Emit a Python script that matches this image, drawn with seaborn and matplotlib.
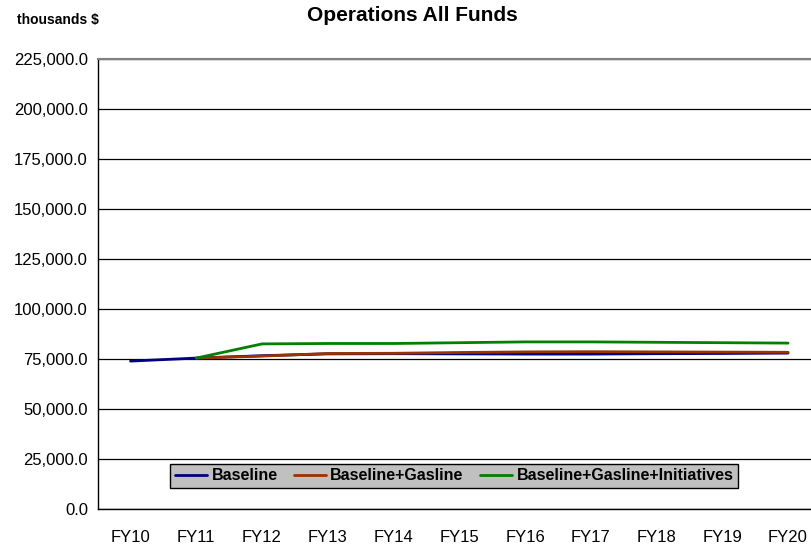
import numpy as np
import pandas as pd
import matplotlib
matplotlib.use("Agg")
import matplotlib.pyplot as plt
import seaborn as sns
from matplotlib.ticker import FuncFormatter

sns.set_style("white")
plt.rcParams['font.family'] = ['Liberation Sans', 'DejaVu Sans']
plt.rcParams['text.color'] = 'black'
plt.rcParams['xtick.color'] = 'black'
plt.rcParams['ytick.color'] = 'black'

years = ['FY10', 'FY11', 'FY12', 'FY13', 'FY14', 'FY15', 'FY16', 'FY17', 'FY18', 'FY19', 'FY20']
baseline = [74000, 75500, 76700, 77600, 77700, 77600, 77500, 77500, 77700, 77800, 78000]
gasline = [np.nan, 75500, 76500, 77800, 77900, 78300, 78600, 78700, 78600, 78500, 78400]
initiatives = [np.nan, 75500, 82600, 82800, 82800, 83200, 83600, 83600, 83400, 83200, 83000]
series_names = ['Baseline', 'Baseline+Gasline', 'Baseline+Gasline+Initiatives']
colors = ['#000080', '#993300', '#008000']

# long form table for seaborn
rows = []
for name, vals in zip(series_names, [baseline, gasline, initiatives]):
    for i, v in enumerate(vals):
        rows.append({'pos': i, 'value': v, 'series': name})
df = pd.DataFrame(rows).dropna()

fig = plt.figure(figsize=(8.12, 5.46), dpi=100)
ax = fig.add_axes([0.1203, 0.0678, 0.8907, 0.8236])

sns.lineplot(data=df, x='pos', y='value', hue='series', hue_order=series_names,
             palette=colors, linewidth=2, ax=ax, legend=False)

ax.set_xlim(-0.5, len(years) - 0.5)
ax.set_ylim(0, 225000)
ax.set_yticks(np.arange(0, 225001, 25000))
ax.yaxis.set_major_formatter(FuncFormatter(lambda v, p: f"{v:,.1f}"))
ax.set_xticks(range(len(years)))
ax.set_xticklabels(years)
ax.set_xticks(np.arange(-0.5, len(years), 1), minor=True)
ax.tick_params(axis='x', which='major', length=0, pad=15, labelsize=12)
ax.tick_params(axis='x', which='minor', length=5, width=1, color='black', direction='out')
ax.tick_params(axis='y', length=5, width=1, color='black', direction='out', labelsize=12, pad=2)
ax.set_xlabel('')
ax.set_ylabel('')

ax.yaxis.grid(True, color='black', linewidth=0.9)
ax.set_axisbelow(True)
ax.spines['right'].set_visible(False)
ax.spines['top'].set_color('#808080')
ax.spines['top'].set_linewidth(1.5)
ax.spines['left'].set_color('black')
ax.spines['left'].set_linewidth(1)
ax.spines['bottom'].set_color('black')
ax.spines['bottom'].set_linewidth(1)

handles = [plt.Line2D([], [], color=c, linewidth=2) for c in colors]
leg = fig.legend(handles, series_names, ncol=3, loc='center', bbox_to_anchor=(0.5591, 0.1283),
                 prop={'weight': 'bold', 'size': 11.5}, frameon=True, fancybox=False,
                 facecolor='#c0c0c0', edgecolor='black', framealpha=1,
                 handlelength=2.0, handletextpad=0.3, columnspacing=1.0,
                 borderpad=0.3, borderaxespad=0)
leg.get_frame().set_linewidth(1)

fig.text(0.508, 0.971, 'Operations All Funds', ha='center', va='center', fontsize=15, fontweight='bold')
fig.text(0.021, 0.963, 'thousands $', ha='left', va='center', fontsize=10, fontweight='bold')

fig.savefig('out.png', dpi=100)
